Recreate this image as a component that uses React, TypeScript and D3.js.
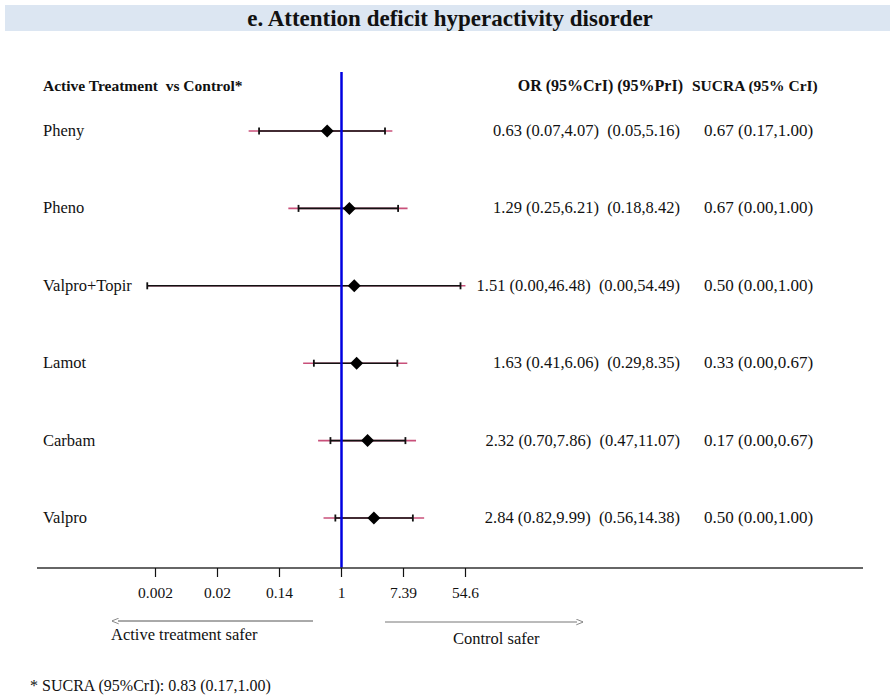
import React from "react";
import * as d3 from "d3";

const treatments = ["Pheny", "Pheno", "Valpro+Topir", "Lamot", "Carbam", "Valpro"];
const orValues = [0.63, 1.29, 1.51, 1.63, 2.32, 2.84];
const criLow = [0.07, 0.25, 0.0019, 0.41, 0.7, 0.82];
const criHigh = [4.07, 6.21, 46.48, 6.06, 7.86, 9.99];
const priLow = [0.05, 0.18, 0.0019, 0.29, 0.47, 0.56];
const priHigh = [5.16, 8.42, 54.49, 8.35, 11.07, 14.38];
const orLabels = [
  "0.63 (0.07,4.07)  (0.05,5.16)",
  "1.29 (0.25,6.21)  (0.18,8.42)",
  "1.51 (0.00,46.48)  (0.00,54.49)",
  "1.63 (0.41,6.06)  (0.29,8.35)",
  "2.32 (0.70,7.86)  (0.47,11.07)",
  "2.84 (0.82,9.99)  (0.56,14.38)",
];
const sucraLabels = [
  "0.67 (0.17,1.00)",
  "0.67 (0.00,1.00)",
  "0.50 (0.00,1.00)",
  "0.33 (0.00,0.67)",
  "0.17 (0.00,0.67)",
  "0.50 (0.00,1.00)",
];
const tickValues = [Math.exp(-6), Math.exp(-4), Math.exp(-2), 1, Math.exp(2), Math.exp(4)];
const tickLabels = ["0.002", "0.02", "0.14", "1", "7.39", "54.6"];

const FONT = "'Liberation Serif', 'DejaVu Serif', serif";

export default function App() {
  const W = 894;
  const H = 698;
  const x = d3.scaleLog().base(Math.E).domain([Math.exp(-6), Math.exp(4)]).range([155.5, 465.5]);
  const y = d3.scalePoint<string>().domain(treatments).range([131, 518]);
  const axisY = 568;
  const r = 6.5;
  const diamond = `M0,${-r}L${r},0L0,${r}L${-r},0Z`;

  return (
    <svg width={W} height={H} style={{ position: "absolute", left: 0, top: 0 }} fontFamily={FONT}>
      <rect x={0} y={0} width={W} height={H} fill="#ffffff" />
      <rect x={5} y={5} width={885} height={26} fill="#dce6f2" />
      <text x={450} y={26} textAnchor="middle" fontSize={23} fontWeight="bold" fill="#111">
        e. Attention deficit hyperactivity disorder
      </text>

      <text x={43} y={91} fontSize={15.5} fontWeight="bold" fill="#111" style={{ whiteSpace: "pre" }}>
        {"Active Treatment  vs Control*"}
      </text>
      <text x={683} y={91} textAnchor="end" fontSize={16} fontWeight="bold" fill="#111">
        OR (95%CrI) (95%PrI)
      </text>
      <text x={692} y={91} fontSize={15.5} fontWeight="bold" fill="#111">
        SUCRA (95% CrI)
      </text>

      {treatments.map((t, i) => {
        const yy = y(t)!;
        return (
          <g key={t}>
            <text x={43} y={yy + 5} fontSize={16.5} fill="#111">{t}</text>
            <line x1={x(priLow[i])} x2={x(priHigh[i])} y1={yy} y2={yy} stroke="#c8507a" strokeWidth={1.6} />
            <line x1={x(criLow[i])} x2={x(criHigh[i])} y1={yy} y2={yy} stroke="#111" strokeWidth={1.6} />
            <line x1={x(criLow[i])} x2={x(criLow[i])} y1={yy - 3.5} y2={yy + 3.5} stroke="#111" strokeWidth={1.8} />
            <line x1={x(criHigh[i])} x2={x(criHigh[i])} y1={yy - 3.5} y2={yy + 3.5} stroke="#111" strokeWidth={1.8} />
            <path d={diamond} transform={`translate(${x(orValues[i])},${yy})`} fill="#000" />
            <text x={680} y={yy + 5} textAnchor="end" fontSize={16.5} fill="#111" style={{ whiteSpace: "pre" }}>{orLabels[i]}</text>
            <text x={704} y={yy + 5} fontSize={17} fill="#111">{sucraLabels[i]}</text>
          </g>
        );
      })}

      <line x1={x(1)} x2={x(1)} y1={72} y2={axisY} stroke="#0000e0" strokeWidth={2.5} />

      <line x1={37} x2={863} y1={axisY} y2={axisY} stroke="#333" strokeWidth={1.6} />
      {tickValues.map((v, i) => (
        <g key={i}>
          <line x1={x(v)} x2={x(v)} y1={axisY} y2={axisY + 9} stroke="#111" strokeWidth={1.2} />
          <text x={x(v)} y={598} textAnchor="middle" fontSize={15.5} fill="#111">{tickLabels[i]}</text>
        </g>
      ))}

      <defs>
        <marker id="arrowL" viewBox="0 0 10 10" refX={1} refY={5} markerWidth={7} markerHeight={7} orient="auto-start-reverse">
          <path d="M0,1 L10,5 L0,9" fill="none" stroke="#555" strokeWidth={1} />
        </marker>
      </defs>
      <line x1={313} x2={118} y1={621} y2={621} stroke="#555" strokeWidth={1} markerEnd="url(#arrowL)" />
      <line x1={385} x2={577} y1={622} y2={622} stroke="#777" strokeWidth={1} markerEnd="url(#arrowL)" />
      <text x={111} y={640} fontSize={16.5} fill="#111">Active treatment safer</text>
      <text x={453} y={644} fontSize={16.5} fill="#111">Control safer</text>

      <text x={30} y={691} fontSize={16} fill="#111">* SUCRA (95%CrI): 0.83 (0.17,1.00)</text>
    </svg>
  );
}
